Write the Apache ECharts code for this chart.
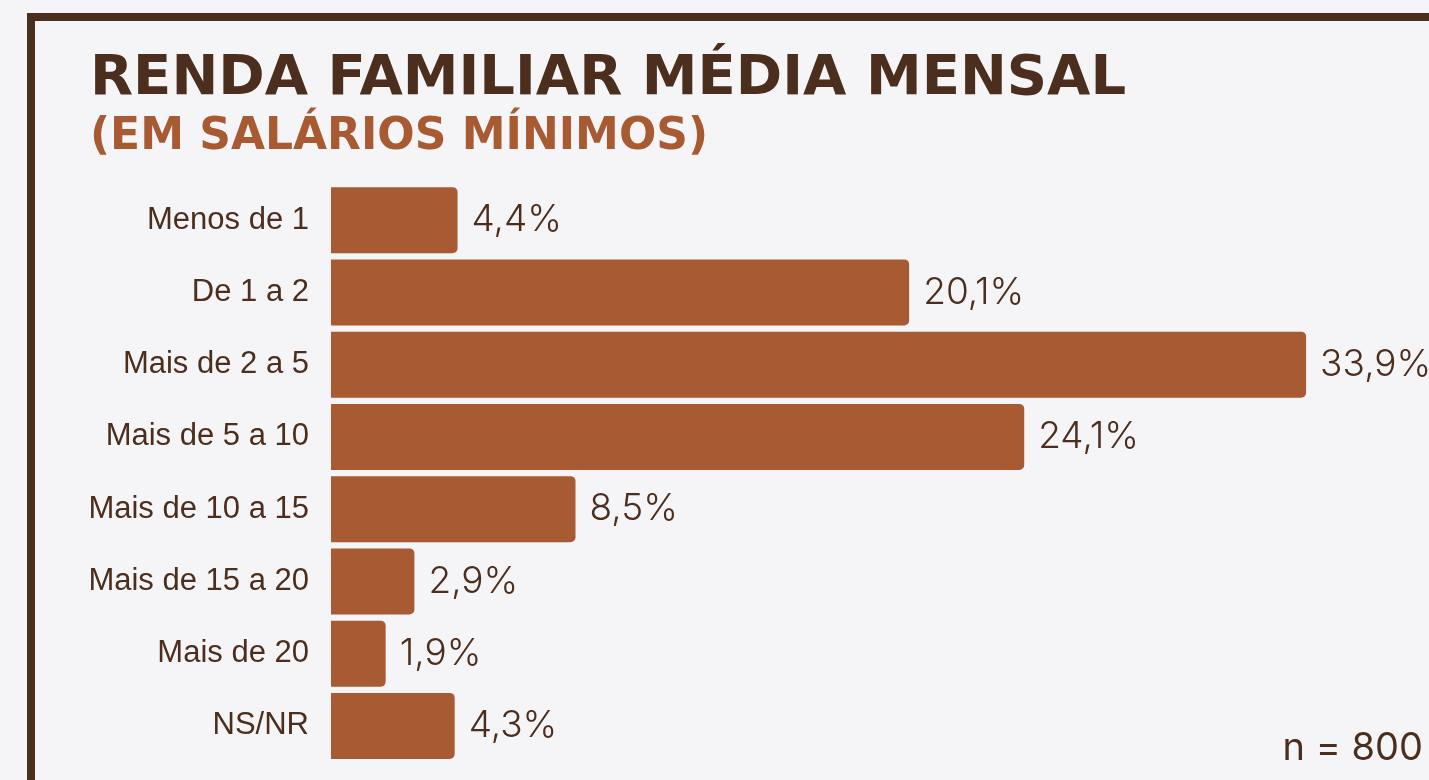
<!DOCTYPE html>
<html>
<head>
<meta charset="utf-8">
<script src="https://cdn.jsdelivr.net/npm/echarts@6/dist/echarts.min.js"></script>
<style>
  html, body { margin: 0; padding: 0; background: #f5f5f8; }
  #chart { width: 1429px; height: 780px; }
</style>
</head>
<body>
<div id="chart"></div>
<script>
// faixas de renda (salários mínimos)
const categories = ['Menos de 1', 'De 1 a 2', 'Mais de 2 a 5', 'Mais de 5 a 10', 'Mais de 10 a 15', 'Mais de 15 a 20', 'Mais de 20', 'NS/NR'];
// percentuais
const values = [4.4, 20.1, 33.9, 24.1, 8.5, 2.9, 1.9, 4.3];
const titleText = 'RENDA FAMILIAR MÉDIA MENSAL';
const subtitleText = '(EM SALÁRIOS MÍNIMOS)';
const sampleText = 'n = 800';

const brown = '#4b2e1e';
const rust = '#a85a32';

const chart = echarts.init(document.getElementById('chart'));
const option = {
  backgroundColor: '#f5f5f8',
  title: [
    {
      text: titleText, left: 85, top: 46,
      textStyle: { fontFamily: 'DejaVu Sans', fontWeight: 'bold', fontSize: 56, color: brown }
    },
    {
      text: subtitleText, left: 85, top: 111,
      textStyle: { fontFamily: 'DejaVu Sans', fontWeight: 'bold', fontSize: 44, color: rust }
    }
  ],
  graphic: [
    {
      type: 'rect', silent: true,
      shape: { x: 31, y: 17, width: 1500, height: 900 },
      style: { fill: 'none', stroke: '#4a2e1f', lineWidth: 8 }
    },
    {
      type: 'text', right: 6, bottom: 12,
      style: { text: sampleText, fontFamily: 'Inter', fontSize: 38, fill: brown }
    }
  ],
  grid: { left: 331, right: 120, top: 184, bottom: 18, containLabel: false },
  xAxis: {
    type: 'value', min: 0, max: 34, show: false
  },
  yAxis: {
    type: 'category', inverse: true, data: categories,
    axisLine: { show: false }, axisTick: { show: false },
    axisLabel: { margin: 22, fontFamily: 'Liberation Sans', fontSize: 31, color: brown }
  },
  series: [{
    type: 'bar',
    data: values,
    barWidth: 66,
    itemStyle: { color: rust, borderRadius: [0, 5, 5, 0] },
    label: {
      show: true, position: 'right', distance: 14,
      fontFamily: 'Inter', fontSize: 37, fontWeight: 300, color: brown,
      formatter: p => String(p.value).replace('.', ',') + '%'
    }
  }]
};
chart.setOption(option);
</script>
</body>
</html>
